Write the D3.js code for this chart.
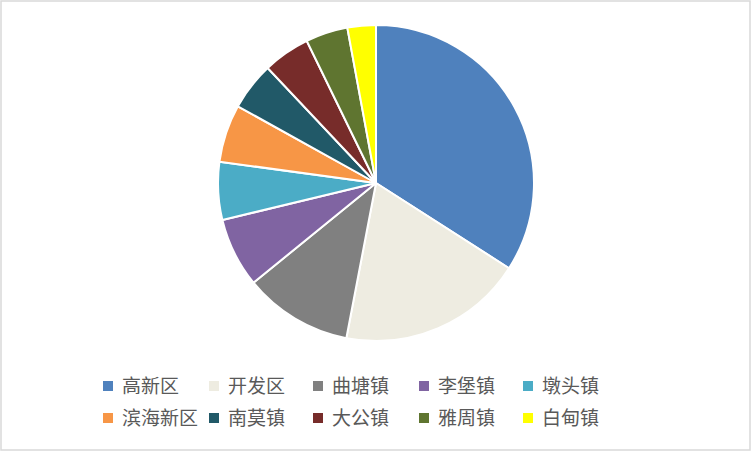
<!DOCTYPE html>
<html><head><meta charset="utf-8">
<script src="https://cdn.jsdelivr.net/npm/d3@7"></script>
<style>html,body{margin:0;padding:0;background:#fff;}svg{display:block;}</style>
</head><body>
<svg id="c" width="752" height="452"></svg>
<script>
const categories = ["高新区","开发区","曲塘镇","李堡镇","墩头镇","滨海新区","南莫镇","大公镇","雅周镇","白甸镇"];
const values = [34.0, 18.9, 11.1, 7.1, 5.9, 5.9, 4.9, 4.8, 4.3, 2.9];
const colors = ["#4F81BD","#EEECE1","#808080","#8064A2","#4BACC6","#F79646","#215968","#772C2A","#5F7530","#FFFF00"];

const svg = d3.select("#c");
svg.append("rect").attr("x",1).attr("y",1).attr("width",749).attr("height",449)
  .attr("fill","#fff").attr("stroke","#d9d9d9").attr("stroke-width",1.5);

const cx = 376, cy = 183, r = 158;
const pie = d3.pie().sort(null).value(d => d.v);
const arc = d3.arc().innerRadius(0).outerRadius(r);
const data = categories.map((c,i) => ({c, v: values[i]}));
const color = d3.scaleOrdinal().domain(categories).range(colors);

svg.append("g").attr("transform", `translate(${cx},${cy})`)
  .selectAll("path").data(pie(data)).join("path")
  .attr("d", arc).attr("fill", d => color(d.data.c))
  .attr("stroke", "#fff").attr("stroke-width", 2).attr("stroke-linejoin","round");

const colX = [103, 209, 313, 419, 523];
const rowY = [386, 418];
const lg = svg.append("g");
categories.forEach((c, i) => {
  const x = colX[i % 5], y = rowY[Math.floor(i / 5)];
  lg.append("rect").attr("x", x).attr("y", y - 5).attr("width", 10).attr("height", 10).attr("fill", color(c));
  lg.append("text").attr("x", x + 19).attr("y", y).attr("dy", "0.37em")
    .attr("font-family", "'Noto Sans CJK SC', sans-serif").attr("font-size", 19)
    .attr("fill", "#595959").text(c);
});
</script>
</body></html>
